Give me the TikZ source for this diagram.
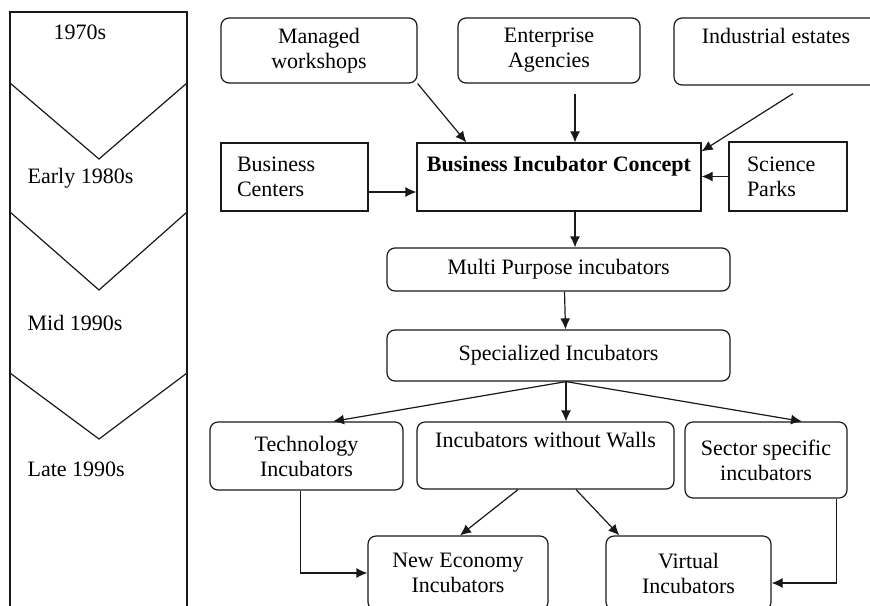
\documentclass[tikz,border=0pt]{standalone}
\usepackage{fontspec}
\setmainfont{Liberation Serif}
\usepackage{tikz}
\usetikzlibrary{calc}
\usetikzlibrary{arrows.meta}

\begin{document}
\fontsize{11pt}{12.5pt}\selectfont
\begin{tikzpicture}[x=0.5pt,y=-0.5pt,line width=0.6pt,black!90,
		rbox/.style={draw,rounded corners=4pt,inner sep=0pt,align=center,text=black},
		sbox/.style={draw,inner sep=0pt,text=black},
		arr/.style={-{Latex[length=5.5pt,width=5pt]}}]
			\useasboundingbox (0,0) rectangle (870,605);
			\clip (0,0) rectangle (870,605);
			% time line
			\draw (10,12) rectangle (187,640);
			\foreach \ya/\yb in {83/159,212/290,373/439}
				\draw (10,\ya) -- (99,\yb) -- (187,\ya);
			\node[text=black] (t1970) at (80,32) {1970s};
			\node[anchor=west,inner sep=0pt,text=black] (t1980) at (27,178) {Early 1980s};
			\node[anchor=west,inner sep=0pt,text=black] (t1990m) at (27,323) {Mid 1990s};
			\node[anchor=west,inner sep=0pt,text=black] (t1990l) at (27,469) {Late 1990s};
			% sources
			\node[rbox,minimum width=98pt,minimum height=32.5pt] (mw) at (319,50.5) {Managed\\workshops};
			\node[rbox,minimum width=91pt,minimum height=32.5pt] (ea) at (549,50.5) {Enterprise\\Agencies};
			\node[rbox,minimum width=102pt,text height=12.5pt,text depth=21pt] (ie) at (776,51.5) {Industrial estates};
			\node[sbox,inner xsep=8pt,text width=57.5pt,align=left,minimum height=34pt] (bc) at (294.5,177) {Business\\Centers};
			\node[sbox,minimum width=142pt,text height=14pt,text depth=20pt,font=\bfseries] (bic) at (559,177) {Business Incubator Concept};
			\node[sbox,inner xsep=9pt,text width=41pt,align=left,minimum height=34.5pt] (sp) at (788,176.5) {Science\\Parks};
			% stages
			\node[rbox,minimum width=171.5pt,minimum height=21.5pt] (mp) at (558.5,269.5) {Multi Purpose incubators};
			\node[rbox,minimum width=171.5pt,minimum height=25.5pt] (si) at (558.5,355.5) {Specialized Incubators};
			\node[rbox,minimum width=96.5pt,minimum height=34pt] (ti) at (306.5,456) {Technology\\Incubators};
			\node[rbox,minimum width=128.5pt,text height=12.5pt,text depth=21pt] (iww) at (545.5,455.5) {Incubators without Walls};
			\node[rbox,minimum width=81pt,minimum height=38pt] (ss) at (766,460) {Sector specific\\incubators};
			\node[rbox,minimum width=90pt,minimum height=37pt] (ne) at (458,573) {New Economy\\Incubators};
			\node[rbox,minimum width=82.5pt,minimum height=37pt] (vi) at (688.5,573) {Virtual\\Incubators};
			% arrows
			\draw[arr] (mw.south east) -- ($(bic.north west)+(50,0)$);
			\draw[arr] ($(ea.south)+(26,10)$) -- ($(bic.north)+(16,0)$);
			\draw[arr] ($(ie.south)+(17,8)$) -- ($(bic.north east)+(0,9)$);
			\draw[arr] ($(bc.east)+(0,15)$) coordinate (bcout) -- (bcout -| bic.west);
			\draw[arr] (sp.west) -- (sp.west -| bic.east);
			\draw[arr] ($(bic.south)+(16,0)$) coordinate (bicout) -- (bicout |- mp.north);
			\draw[arr] ($(mp.south)+(6,0)$) -- ($(si.north)+(7,0)$);
			\coordinate (siout) at ($(si.south)+(7.5,0)$);
			\draw[arr] (siout) -- ($(ti.north)+(26.5,0)$);
			\draw[arr] (siout) -- ($(iww.north)+(20.5,0)$);
			\draw[arr] (siout) -- ($(ss.north)+(36,0)$);
			\draw[arr] ($(iww.south)+(-27.5,0)$) -- ($(ne.north)+(2,0)$);
			\draw[arr] ($(iww.south)+(30.5,0)$) -- ($(vi.north west)+(14,0)$);
			\draw[arr] ($(ti.south)+(-6,0)$) |- (ne.west);
			\draw[arr] ($(ss.south east)+(-11,0)$) |- ($(vi.east)+(0,10)$);
		\end{tikzpicture}
\end{document}
